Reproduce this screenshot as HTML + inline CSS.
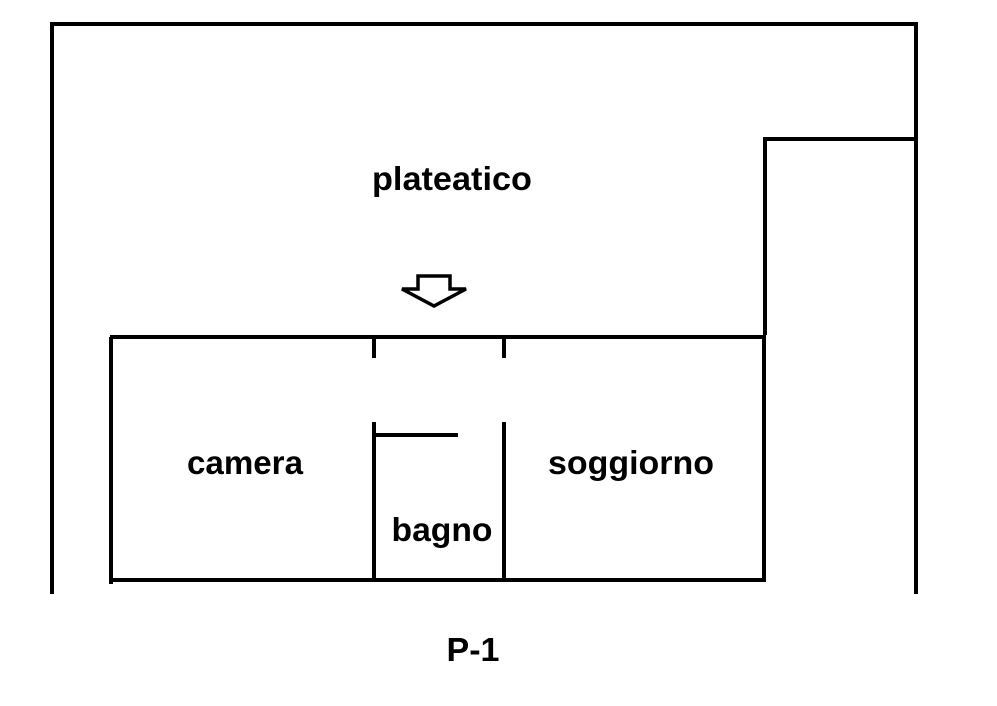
<!DOCTYPE html>
<html><head><style>html,body{margin:0;padding:0;background:#fff;}svg{display:block}</style></head>
<body>
<svg width="997" height="706" viewBox="0 0 997 706" xmlns="http://www.w3.org/2000/svg">
<g stroke="#000" stroke-width="4" fill="none">
<polyline points="52,594 52,24 916,24 916,594"/>
<polyline points="765,335 765,139 916,139"/>
<line x1="110" y1="337" x2="766" y2="337"/>
<line x1="111" y1="337" x2="111" y2="584"/>
<line x1="764" y1="337" x2="764" y2="581"/>
<line x1="110" y1="580" x2="766" y2="580"/>
<line x1="374" y1="337" x2="374" y2="358"/>
<line x1="504" y1="337" x2="504" y2="358"/>
<line x1="374" y1="422" x2="374" y2="580"/>
<line x1="504" y1="422" x2="504" y2="580"/>
<line x1="374" y1="435" x2="458" y2="435"/>
<polygon points="418,276 450,276 450,289 466,289 434,306 402,289 418,289" stroke-width="3.5" stroke-linejoin="miter"/>
</g>
<g font-family="Liberation Sans, DejaVu Sans, sans-serif" font-weight="bold" font-size="33" fill="#000" text-anchor="middle">
<text x="452" y="190" textLength="160" lengthAdjust="spacingAndGlyphs">plateatico</text>
<text x="245" y="474" textLength="116" lengthAdjust="spacingAndGlyphs">camera</text>
<text x="631" y="474" textLength="166" lengthAdjust="spacingAndGlyphs">soggiorno</text>
<text x="442" y="541" textLength="101" lengthAdjust="spacingAndGlyphs">bagno</text>
<text x="473" y="661" textLength="53" lengthAdjust="spacingAndGlyphs">P-1</text>
</g>
</svg>
</body></html>
